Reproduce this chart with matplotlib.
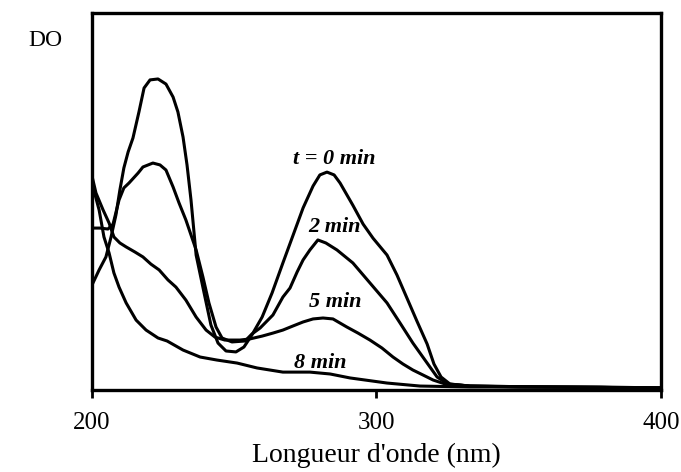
import matplotlib
matplotlib.use('Agg')
import matplotlib.pyplot as plt

plt.rcParams['font.family'] = ['Liberation Serif', 'DejaVu Serif']

# spectres UV (longueur d'onde en nm, DO en unites arbitraires)
wl_0 = [200.0, 202.5, 204.9, 206.7, 208.4, 209.8, 211.2, 212.7, 214.4, 216.5, 218.3, 220.4,
        223.2, 226.0, 228.5, 230.2, 232.0, 233.4, 234.8, 236.6, 239.4, 241.8, 244.3, 247.1,
        250.6, 253.4, 256.2, 259.8, 263.3, 267.1, 270.7, 274.2, 277.7, 280.1, 282.6, 285.1,
        287.2, 291.7, 295.3, 298.8, 303.7, 307.2, 310.7, 314.2, 317.8, 320.2, 322.7, 325.8,
        332.9, 350.4, 378.6, 400.0]
do_0 = [0.557, 0.637, 0.706, 0.812, 0.928, 1.061, 1.178, 1.263, 1.337, 1.475, 1.602, 1.645,
        1.650, 1.623, 1.554, 1.475, 1.342, 1.194, 1.008, 0.716, 0.515, 0.345, 0.249, 0.207,
        0.202, 0.228, 0.292, 0.387, 0.515, 0.674, 0.822, 0.966, 1.082, 1.141, 1.156, 1.141,
        1.098, 0.980, 0.880, 0.805, 0.716, 0.610, 0.488, 0.366, 0.244, 0.138, 0.069, 0.032,
        0.021, 0.016, 0.016, 0.011]

wl_2 = [200.0, 202.8, 205.6, 207.4, 209.5, 211.2, 213.0, 216.2, 217.9, 221.4, 223.9, 226.0,
        228.5, 230.6, 233.0, 236.6, 239.0, 241.1, 243.6, 245.7, 249.2, 253.8, 256.2, 259.1,
        263.6, 267.1, 269.6, 272.1, 274.2, 276.6, 279.4, 282.2, 286.1, 291.7, 297.7, 303.7,
        308.3, 312.8, 317.8, 321.3, 325.1, 332.9, 360.0, 400.0]
do_2 = [0.859, 0.859, 0.854, 0.880, 1.008, 1.072, 1.098, 1.151, 1.183, 1.204, 1.194, 1.167,
        1.077, 0.992, 0.902, 0.743, 0.599, 0.462, 0.334, 0.276, 0.255, 0.260, 0.297, 0.329,
        0.398, 0.493, 0.541, 0.626, 0.690, 0.743, 0.796, 0.780, 0.743, 0.674, 0.568, 0.462,
        0.355, 0.249, 0.143, 0.069, 0.032, 0.021, 0.016, 0.011]

wl_5 = [200.0, 201.4, 203.9, 206.0, 207.7, 209.8, 212.0, 215.1, 217.9, 220.7, 223.6, 226.7,
        229.5, 233.0, 236.6, 240.1, 243.2, 246.7, 252.0, 255.5, 259.8, 263.6, 267.1, 270.7,
        274.2, 277.7, 281.2, 284.7, 289.6, 293.5, 297.7, 301.9, 305.8, 309.3, 312.8, 316.3,
        319.9, 324.1, 332.9, 360.0, 400.0]
do_5 = [1.135, 1.045, 0.955, 0.886, 0.812, 0.780, 0.759, 0.732, 0.706, 0.668, 0.637, 0.584,
        0.546, 0.477, 0.387, 0.318, 0.281, 0.265, 0.265, 0.271, 0.286, 0.302, 0.318, 0.340,
        0.361, 0.377, 0.382, 0.377, 0.334, 0.302, 0.265, 0.223, 0.175, 0.138, 0.106, 0.080,
        0.053, 0.032, 0.021, 0.016, 0.011]

wl_8 = [200.0, 201.1, 202.5, 204.2, 206.0, 207.7, 209.5, 212.0, 215.5, 219.0, 223.2, 226.4,
        232.0, 238.0, 243.9, 251.0, 258.0, 267.1, 276.6, 283.7, 290.7, 303.7, 315.3, 332.9,
        360.0, 400.0]
do_8 = [1.088, 1.034, 0.955, 0.812, 0.727, 0.621, 0.546, 0.462, 0.371, 0.318, 0.276, 0.260,
        0.212, 0.175, 0.159, 0.143, 0.117, 0.095, 0.095, 0.085, 0.064, 0.037, 0.021, 0.016,
        0.016, 0.011]

labels = ['t = 0 min', '2 min', '5 min', '8 min']
label_x = [285.0, 285.1, 285.4, 280.1]
label_y = [1.225, 0.865, 0.465, 0.143]

fig = plt.figure(figsize=(6.81, 4.72), dpi=100)
ax = fig.add_axes([0.1351, 0.1737, 0.8355, 0.7988])

for wl, do in [(wl_0, do_0), (wl_2, do_2), (wl_5, do_5), (wl_8, do_8)]:
    ax.plot(wl, do, color='black', lw=2.2, solid_joinstyle='round')

for txt, lx, ly in zip(labels, label_x, label_y):
    ax.text(lx, ly, txt, fontsize=16, fontweight='bold', style='italic',
            ha='center', va='center')

ax.set_xlim(200, 400)
ax.set_ylim(0, 2.0)
ax.set_xticks([200, 300, 400])
ax.set_yticks([])
ax.tick_params(axis='x', direction='out', length=6, width=2, labelsize=18, pad=10)
for sp in ax.spines.values():
    sp.set_linewidth(2.4)

ax.set_xlabel("Longueur d'onde (nm)", fontsize=20, labelpad=6)
fig.text(0.066, 0.915, 'DO', fontsize=17, ha='center', va='center')

fig.savefig('out.png', dpi=100)
